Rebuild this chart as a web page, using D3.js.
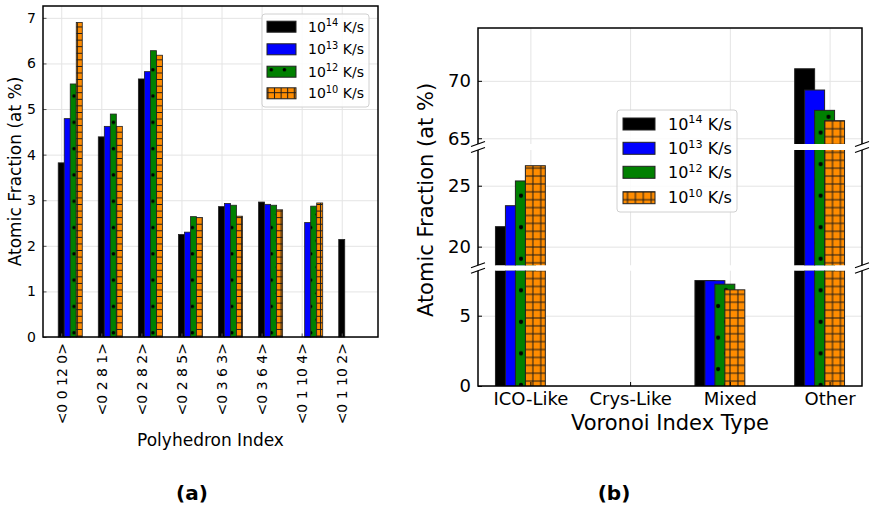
<!DOCTYPE html>
<html>
<head>
<meta charset="utf-8">
<title>Atomic fraction</title>
<script src="https://d3js.org/d3.v7.min.js"></script>
<style>
  body { margin: 0; background: #fff; }
  text { font-family: "DejaVu Sans", sans-serif; }
</style>
</head>
<body>
<div id="chart"></div>
<script>
// ---- data ----
const rates = ["14", "13", "12", "10"];
const polyIndex = ["<0 0 12 0>", "<0 2 8 1>", "<0 2 8 2>", "<0 2 8 5>", "<0 3 6 3>", "<0 3 6 4>", "<0 1 10 4>", "<0 1 10 2>"];
const polyR14 = [3.82, 4.39, 5.66, 2.25, 2.86, 2.96, 0, 2.14];
const polyR13 = [4.79, 4.62, 5.82, 2.30, 2.93, 2.91, 2.51, 0];
const polyR12 = [5.55, 4.89, 6.28, 2.64, 2.89, 2.89, 2.87, 0];
const polyR10 = [6.90, 4.62, 6.18, 2.62, 2.65, 2.79, 2.94, 0];
const polyTicks = [0, 1, 2, 3, 4, 5, 6, 7];

const voroTypes = ["ICO-Like", "Crys-Like", "Mixed", "Other"];
const voroR14 = [21.64, 0, 7.50, 71.05];
const voroR13 = [23.36, 0, 7.49, 69.20];
const voroR12 = [25.39, 0, 7.24, 67.43];
const voroR10 = [26.64, 0, 6.84, 66.53];
const voroTicksTop = [65, 70];
const voroTicksMid = [20, 25];
const voroTicksBot = [0, 5];

const colors = ["#000000", "#0000ff", "#008000", "#ff8c00"];

let svg = d3.select("#chart").append("svg")
    .attr("width", 874).attr("height", 506);

let defs = svg.append("defs");

// hatch patterns (anchored in page space like matplotlib does)
function dotPattern(id, ax, ay, w, r) {
    let h = w * 2;
    let p = defs.append("pattern").attr("id", id)
        .attr("patternUnits", "userSpaceOnUse")
        .attr("x", ax - w / 4).attr("y", ay - h / 4)
        .attr("width", w).attr("height", h);
    p.append("rect").attr("width", w).attr("height", h).attr("fill", colors[2]);
    p.append("circle").attr("cx", w / 4).attr("cy", h / 4).attr("r", r).attr("fill", "#000");
    p.append("circle").attr("cx", 3 * w / 4).attr("cy", 3 * h / 4).attr("r", r).attr("fill", "#000");
}
function gridPattern(id, ax, ay, s) {
    let p = defs.append("pattern").attr("id", id)
        .attr("patternUnits", "userSpaceOnUse")
        .attr("x", ax - s / 2).attr("y", ay - s / 2)
        .attr("width", s).attr("height", s);
    p.append("rect").attr("width", s).attr("height", s).attr("fill", colors[3]);
    p.append("path").attr("d", "M" + s / 2 + ",0V" + s + "M0," + s / 2 + "H" + s)
        .attr("stroke", "#1a1a1a").attr("stroke-width", 1);
}
dotPattern("dotsA", 74, 96, 13.15, 1.8);
gridPattern("gridA", 74 + 3.29, 96 + 3.29, 6.575);
dotPattern("dotsB", 521, 195.7, 15.77, 2.1);
gridPattern("gridB", 820.7 + 3.94, 132.7 + 3.94, 7.885);

const fillsA = [colors[0], colors[1], "url(#dotsA)", "url(#gridA)"];
const fillsB = [colors[0], colors[1], "url(#dotsB)", "url(#gridB)"];

function legend(x0, y0, w, h, px, pw, ph, tx, rows, fs, fills) {
    let g = svg.append("g");
    g.append("rect").attr("x", x0).attr("y", y0).attr("width", w).attr("height", h)
        .attr("rx", 3).attr("fill", "#fff").attr("fill-opacity", 0.85)
        .attr("stroke", "#d0d0d0").attr("stroke-width", 1);
    rates.forEach(function(r, i) {
        g.append("rect").attr("x", px).attr("y", rows[i] - ph / 2)
            .attr("width", pw).attr("height", ph)
            .attr("fill", fills[i]).attr("stroke", "#222").attr("stroke-width", 1);
        let t = g.append("text").attr("x", tx).attr("y", rows[i] + fs * 0.36)
            .attr("font-size", fs + "px").attr("fill", "#000");
        t.append("tspan").text("10");
        t.append("tspan").attr("font-size", (fs * 0.7) + "px").attr("dy", -fs * 0.4).text(r);
        t.append("tspan").attr("dy", fs * 0.4).text("\u00a0K/s");
    });
}

// ================= (a) =================
const A = {left: 43, top: 6, right: 378, bottom: 337};
let xA = d3.scaleLinear().domain([-0.455, 7.905]).range([A.left, A.right]);
let yA = d3.scaleLinear().domain([0, 7.26]).range([A.bottom, A.top]);
const polySeries = [polyR14, polyR13, polyR12, polyR10];

// grid
svg.append("g").attr("transform", "translate(0," + A.bottom + ")")
    .call(d3.axisBottom(xA).tickValues(d3.range(polyIndex.length)).tickSize(-(A.bottom - A.top)).tickFormat(""))
    .call(g => g.select(".domain").remove())
    .selectAll("line").attr("stroke", "#e4e4e4");
svg.append("g").attr("transform", "translate(" + A.left + ",0)")
    .call(d3.axisLeft(yA).tickValues(polyTicks).tickSize(-(A.right - A.left)).tickFormat(""))
    .call(g => g.select(".domain").remove())
    .selectAll("line").attr("stroke", "#e4e4e4");

polySeries.forEach(function(vals, j) {
    let pts = vals.map((v, i) => ({i: i, v: v})).filter(d => d.v > 0);
    svg.append("g").selectAll("rect").data(pts).enter().append("rect")
        .attr("x", d => xA(d.i + j * 0.15 - 0.075))
        .attr("width", xA(0.15) - xA(0))
        .attr("y", d => yA(d.v))
        .attr("height", d => yA(0) - yA(d.v))
        .attr("fill", fillsA[j])
        .attr("stroke", "#222")
        .attr("stroke-width", 0.8);
});

// axes
let axA = svg.append("g").attr("transform", "translate(0," + A.bottom + ")")
    .call(d3.axisBottom(xA).tickValues(d3.range(polyIndex.length)).tickSize(-3.5)
        .tickFormat(i => polyIndex[i]));
axA.select(".domain").remove();
axA.selectAll("line").attr("stroke", "#555");
axA.selectAll("text")
    .attr("font-size", "14px").attr("font-family", "DejaVu Sans").attr("fill", "#000")
    .attr("transform", "rotate(-90)")
    .attr("x", -6).attr("y", 0).attr("dy", "0.35em")
    .style("text-anchor", "end");

let ayA = svg.append("g").attr("transform", "translate(" + A.left + ",0)")
    .call(d3.axisLeft(yA).tickValues(polyTicks).tickSize(-3.5).tickPadding(7));
ayA.select(".domain").remove();
ayA.selectAll("line").attr("stroke", "#555");
ayA.selectAll("text").attr("font-size", "14px").attr("font-family", "DejaVu Sans").attr("fill", "#000");

svg.append("rect").attr("x", A.left).attr("y", A.top)
    .attr("width", A.right - A.left).attr("height", A.bottom - A.top)
    .attr("fill", "none").attr("stroke", "#000").attr("stroke-width", 1.5);

svg.append("text").attr("x", (A.left + A.right) / 2).attr("y", 446)
    .attr("text-anchor", "middle").attr("font-size", "17px").text("Polyhedron Index");
svg.append("text").attr("transform", "translate(21," + (A.top + A.bottom) / 2 + ") rotate(-90)")
    .attr("text-anchor", "middle").attr("font-size", "17px").text("Atomic Fraction (at %)");

legend(262, 14, 107, 93, 267, 29, 11, 308, [26.7, 49.3, 71.7, 93.3], 14, fillsA);

svg.append("text").attr("x", 192).attr("y", 500).attr("text-anchor", "middle")
    .attr("font-size", "20px").attr("font-weight", "bold").text("(a)");

// ================= (b) =================
const B = {left: 478, right: 862};
let xB = d3.scaleLinear().domain([-0.525, 3.325]).range([B.left, B.right]);
const panels = [
    {id: "pTop", y: d3.scaleLinear().domain([64.5, 74.6]).range([144, 28]), ticks: voroTicksTop},
    {id: "pMid", y: d3.scaleLinear().domain([18.47, 27.93]).range([265.3, 150]), ticks: voroTicksMid},
    {id: "pBot", y: d3.scaleLinear().domain([0, 8.2]).range([386, 270.7]), ticks: voroTicksBot}
];
const voroSeries = [voroR14, voroR13, voroR12, voroR10];
const offsets = [-0.25, -0.15, -0.05, 0.05];

panels.forEach(function(p) {
    let y0 = p.y.range()[0], y1 = p.y.range()[1];
    let lo = p.y.domain()[0];
    defs.append("clipPath").attr("id", "clip" + p.id).append("rect")
        .attr("x", B.left).attr("y", y1).attr("width", B.right - B.left).attr("height", y0 - y1);

    // grid
    svg.append("g").attr("transform", "translate(0," + y0 + ")")
        .call(d3.axisBottom(xB).tickValues(d3.range(voroTypes.length)).tickSize(-(y0 - y1)).tickFormat(""))
        .call(g => g.select(".domain").remove())
        .selectAll("line").attr("stroke", "#e4e4e4");
    svg.append("g").attr("transform", "translate(" + B.left + ",0)")
        .call(d3.axisLeft(p.y).tickValues(p.ticks).tickSize(-(B.right - B.left)).tickFormat(""))
        .call(g => g.select(".domain").remove())
        .selectAll("line").attr("stroke", "#e4e4e4");

    let bars = svg.append("g").attr("clip-path", "url(#clip" + p.id + ")");
    voroSeries.forEach(function(vals, j) {
        let pts = vals.map((v, i) => ({i: i, v: v})).filter(d => d.v > lo);
        bars.append("g").selectAll("rect").data(pts).enter().append("rect")
            .attr("x", d => xB(d.i + offsets[j] - 0.1))
            .attr("width", xB(0.2) - xB(0))
            .attr("y", d => p.y(d.v))
            .attr("height", d => y0 + 2 - p.y(d.v))
            .attr("fill", fillsB[j])
            .attr("stroke", "#222").attr("stroke-width", 1);
    });

    let ay = svg.append("g").attr("transform", "translate(" + B.left + ",0)")
        .call(d3.axisLeft(p.y).tickValues(p.ticks).tickSize(-4).tickPadding(7));
    ay.select(".domain").remove();
    ay.selectAll("line").attr("stroke", "#000");
    ay.selectAll("text").attr("font-size", "18px").attr("font-family", "DejaVu Sans").attr("fill", "#000");
});

// x axis of (b)
let axB = svg.append("g").attr("transform", "translate(0,386)")
    .call(d3.axisBottom(xB).tickValues(d3.range(voroTypes.length)).tickSize(-4).tickPadding(6)
        .tickFormat(i => voroTypes[i]));
axB.select(".domain").remove();
axB.selectAll("line").attr("stroke", "#000");
axB.selectAll("text").attr("font-size", "18px").attr("font-family", "DejaVu Sans").attr("fill", "#000");

// spines with breaks
const sp = {stroke: "#000", width: 1.5};
svg.append("path").attr("d", "M" + B.left + ",144V28H" + B.right + "V144")
    .attr("fill", "none").attr("stroke", sp.stroke).attr("stroke-width", sp.width);
svg.append("path").attr("d", "M" + B.left + ",150V265.3M" + B.right + ",150V265.3")
    .attr("fill", "none").attr("stroke", sp.stroke).attr("stroke-width", sp.width);
svg.append("path").attr("d", "M" + B.left + ",270.7V386H" + B.right + "V270.7")
    .attr("fill", "none").attr("stroke", sp.stroke).attr("stroke-width", sp.width);
[144, 150, 265.3, 270.7].forEach(function(yy) {
    [B.left, B.right].forEach(function(xx) {
        svg.append("line").attr("x1", xx - 7).attr("y1", yy + 2.5).attr("x2", xx + 7).attr("y2", yy - 2.5)
            .attr("stroke", "#000").attr("stroke-width", 1.2);
    });
});

svg.append("text").attr("x", (B.left + B.right) / 2).attr("y", 430)
    .attr("text-anchor", "middle").attr("font-size", "21px").text("Voronoi Index Type");
svg.append("text").attr("transform", "translate(433,200) rotate(-90)")
    .attr("text-anchor", "middle").attr("font-size", "21px").text("Atomic Fraction (at %)");

legend(617, 110, 120, 102, 623, 32, 12, 668, [124, 148.3, 172.3, 197.7], 16, fillsB);

svg.append("text").attr("x", 614).attr("y", 500).attr("text-anchor", "middle")
    .attr("font-size", "20px").attr("font-weight", "bold").text("(b)");
</script>
</body>
</html>
